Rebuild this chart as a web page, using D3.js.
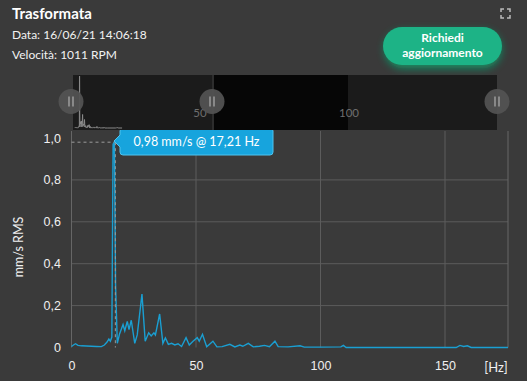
<!DOCTYPE html>
<html>
<head>
<meta charset="utf-8">
<script src="https://cdn.jsdelivr.net/npm/d3@7"></script>
<style>
  body { margin: 0; background: #3a3a3a; }
  svg { display: block; font-family: Lato, "Open Sans", sans-serif; }
</style>
</head>
<body>
<div class="chart"></div>
<script>
// spectrum (Hz, mm/s RMS)
const freqs = [0, 0.8, 1.6, 2.6, 4, 6, 8, 10, 12, 13.2, 14.2, 15, 15.6, 16.2, 16.7, 17.21, 17.7, 18.4,
  19.3, 20.7, 21.4, 22.4, 23.1, 24, 25.4, 26.4, 28.3, 29.6, 31, 32, 33.1, 33.7, 35.4, 36.7, 37.7,
  38.9, 40.2, 41.5, 42.8, 44.2, 46, 47.3, 48.8, 50.5, 51.3, 52.6, 54.3, 56.8, 58.4, 60.5, 63.6,
  65.6, 67.6, 68.8, 71, 73, 75.5, 77.5, 79.5, 81.7, 83, 87, 91.8, 93.5, 100, 108.2, 109.2, 110.3,
  120, 150, 154.5, 156, 157.5, 159, 160.5, 175.3];
const amps = [0.005, 0.012, 0.018, 0.01, 0.008, 0.007, 0.006, 0.005, 0.004, 0.012, 0.025, 0.04, 0.03, 0.05, 0.97, 0.98, 0.3, 0.02,
  0.065, 0.11, 0.08, 0.125, 0.085, 0.13, 0.02, 0.06, 0.255, 0.03, 0.07, 0.055, 0.07, 0.06, 0.16, 0.02, 0.046,
  0.015, 0.02, 0.012, 0.018, 0.005, 0.047, 0.012, 0.03, 0.047, 0.03, 0.063, 0.004, 0.03, 0.003, 0.004, 0.015,
  0.003, 0.012, 0.006, 0.02, 0.003, 0.006, 0.01, 0.004, 0.03, 0.004, 0.003, 0.008, 0.002, 0.002, 0.003, 0.01, 0,
  0, 0, 0, 0.01, 0.005, 0.008, 0, 0];

const xTicks = [0, 50, 100, 150];
const yTicks = [0, 0.2, 0.4, 0.6, 0.8, 1.0];
const navTicks = [50, 100];
const peakFreq = 17.21, peakAmp = 0.98;

const W = 527, H = 381;
const comma = s => s.replace(".", ",");
const fmt = d => d === 0 ? "0" : comma(d3.format(".1f")(d));

const svg = d3.select(".chart").append("svg")
  .attr("width", W)
  .attr("height", H);

// header
svg.append("text").attr("x", 12).attr("y", 19)
  .attr("fill", "#fff").attr("font-size", 15).attr("font-weight", 700)
  .text("Trasformata");
svg.append("text").attr("x", 12).attr("y", 39)
  .attr("fill", "#f2f2f2").attr("font-size", 12)
  .text("Data: 16/06/21 14:06:18");
svg.append("text").attr("x", 12).attr("y", 59)
  .attr("fill", "#f2f2f2").attr("font-size", 12)
  .text("Velocità: 1011 RPM");

// button
const defs = svg.append("defs");
const glow = defs.append("filter").attr("id", "glow")
  .attr("x", "-30%").attr("y", "-50%").attr("width", "160%").attr("height", "200%");
glow.append("feGaussianBlur").attr("stdDeviation", 4);
svg.append("rect").attr("x", 385).attr("y", 31).attr("width", 116).attr("height", 37).attr("rx", 18)
  .attr("fill", "#11a06c").attr("opacity", 0.9).attr("filter", "url(#glow)");
svg.append("rect").attr("x", 383).attr("y", 27).attr("width", 119).attr("height", 38).attr("rx", 19)
  .attr("fill", "#1db386");
svg.append("text").attr("x", 442.5).attr("y", 42).attr("text-anchor", "middle")
  .attr("fill", "#fff").attr("font-size", 12).attr("font-weight", 700).text("Richiedi");
svg.append("text").attr("x", 442.5).attr("y", 57).attr("text-anchor", "middle")
  .attr("fill", "#fff").attr("font-size", 12).attr("font-weight", 700).text("aggiornamento");

// expand icon
svg.append("path")
  .attr("d", "M501,12V9H504 M507,9H510V12 M510,15V18H507 M504,18H501V15")
  .attr("fill", "none").attr("stroke", "#bbb").attr("stroke-width", 1.5);

// main scales
const x = d3.scaleLinear().domain([0, 150]).range([71.5, 445]);
const y = d3.scaleLinear().domain([0, 1]).range([347.5, 138]);
const plotTop = 131, plotRight = 508;

// grid
svg.append("g").selectAll("line")
  .data(yTicks.filter(d => d > 0 && d < 1))
  .enter().append("line")
  .attr("x1", x(0)).attr("x2", plotRight)
  .attr("y1", d => y(d)).attr("y2", d => y(d))
  .attr("stroke", "#5c5c5c");
svg.append("g").selectAll("line")
  .data(xTicks.filter(d => d > 0))
  .enter().append("line")
  .attr("x1", d => x(d)).attr("x2", d => x(d))
  .attr("y1", plotTop).attr("y2", y(0))
  .attr("stroke", "#5c5c5c");
svg.append("line").attr("x1", x(0)).attr("x2", x(0)).attr("y1", plotTop).attr("y2", y(0)).attr("stroke", "#666");
svg.append("line").attr("x1", plotRight).attr("x2", plotRight).attr("y1", plotTop).attr("y2", y(0)).attr("stroke", "#666");

// axes
const xAxis = svg.append("g")
  .attr("transform", "translate(0," + (y(0) + 8) + ")")
  .call(d3.axisBottom(x).tickValues(xTicks).tickSize(0).tickFormat(d3.format("d")));
xAxis.select(".domain").remove();
xAxis.selectAll("text").attr("fill", "#f0f0f0").attr("font-size", 12.5).attr("dy", "0.9em");

const yAxis = svg.append("g")
  .attr("transform", "translate(" + 61 + ",0)")
  .call(d3.axisLeft(y).tickValues(yTicks).tickSize(0).tickFormat(fmt));
yAxis.select(".domain").remove();
yAxis.selectAll("text").attr("fill", "#f0f0f0").attr("font-size", 12.5).attr("x", 0);

svg.append("text")
  .attr("transform", "translate(23,247) rotate(-90)")
  .attr("text-anchor", "middle")
  .attr("fill", "#f0f0f0").attr("font-size", 12.5)
  .text("mm/s RMS");
svg.append("text").attr("x", 496).attr("y", 372).attr("text-anchor", "middle")
  .attr("fill", "#f0f0f0").attr("font-size", 13).text("[Hz]");

// series
const data = freqs.map((f, i) => ({ f: f, v: amps[i] }));
svg.append("path")
  .datum(data)
  .attr("fill", "none")
  .attr("stroke", "#1a9fd2")
  .attr("stroke-width", 1.4)
  .attr("d", d3.line().x(d => x(d.f)).y(d => y(d.v)));

// crosshair
svg.append("line").attr("x1", x(0)).attr("x2", x(peakFreq))
  .attr("y1", y(peakAmp)).attr("y2", y(peakAmp))
  .attr("stroke", "#9a9a9a").attr("stroke-dasharray", "3,3");
svg.append("line").attr("x1", x(peakFreq) + 1).attr("x2", x(peakFreq) + 1)
  .attr("y1", y(peakAmp)).attr("y2", y(0))
  .attr("stroke", "#9a9a9a").attr("stroke-dasharray", "3,3");

// tooltip
const tip = svg.append("g");
tip.append("path")
  .attr("d", "M123,128H270a3,3 0 0 1 3,3V152a3,3 0 0 1 -3,3H123a3,3 0 0 1 -3,-3V147L114,141L120,135V131a3,3 0 0 1 3,-3Z")
  .attr("fill", "#17a4dd").attr("stroke", "#4ec3ee").attr("stroke-width", 1);
tip.append("text").attr("x", 196.5).attr("y", 145.5).attr("text-anchor", "middle")
  .attr("fill", "#fff").attr("font-size", 12.5)
  .text(comma(d3.format(".2f")(peakAmp)) + " mm/s @ " + comma(d3.format(".2f")(peakFreq)) + " Hz");

// navigator
const navTop = 75, navBottom = 130, navLeft = 73, navRight = 497;
const nav = svg.append("g");
const handles = [71, 212, 497];
nav.append("rect").attr("x", navLeft).attr("y", navTop).attr("width", navRight - navLeft).attr("height", navBottom - navTop)
  .attr("fill", "#1b1b1b");
nav.append("rect").attr("x", handles[1]).attr("y", navTop).attr("width", 348 - handles[1]).attr("height", navBottom - navTop)
  .attr("fill", "#060606");

const navX = d3.scaleLinear().domain([0, 175]).range([navLeft + 2, 122]);
const navY = d3.scaleLinear().domain([0, 1]).range([navBottom - 2, navTop]);
nav.append("path")
  .datum(data)
  .attr("fill", "none")
  .attr("stroke", "#8a8a8a")
  .attr("stroke-width", 1)
  .attr("d", d3.line().x(d => navX(d.f)).y(d => navY(d.v)));

const navAxisScale = d3.scaleLinear().domain([0, 150]).range([51, 498]);
nav.append("g").selectAll("text")
  .data(navTicks)
  .enter().append("text")
  .attr("x", d => navAxisScale(d))
  .attr("y", 117)
  .attr("text-anchor", "middle")
  .attr("fill", "#6e6e6e")
  .attr("font-size", 11.5)
  .text(d => d);

nav.append("line").attr("x1", handles[1] + 1).attr("x2", handles[1] + 1)
  .attr("y1", navTop).attr("y2", navBottom).attr("stroke", "#555");

const hg = nav.selectAll(".handle")
  .data(handles)
  .enter().append("g")
  .attr("class", "handle")
  .attr("transform", d => "translate(" + d + ",101.5)");
hg.append("circle").attr("r", 12.5).attr("fill", "#525252").attr("opacity", 0.95);
hg.append("path").attr("d", "M-2,-5V5M2,-5V5").attr("stroke", "#a8a8a8").attr("stroke-width", 1.3);
</script>
</body>
</html>
